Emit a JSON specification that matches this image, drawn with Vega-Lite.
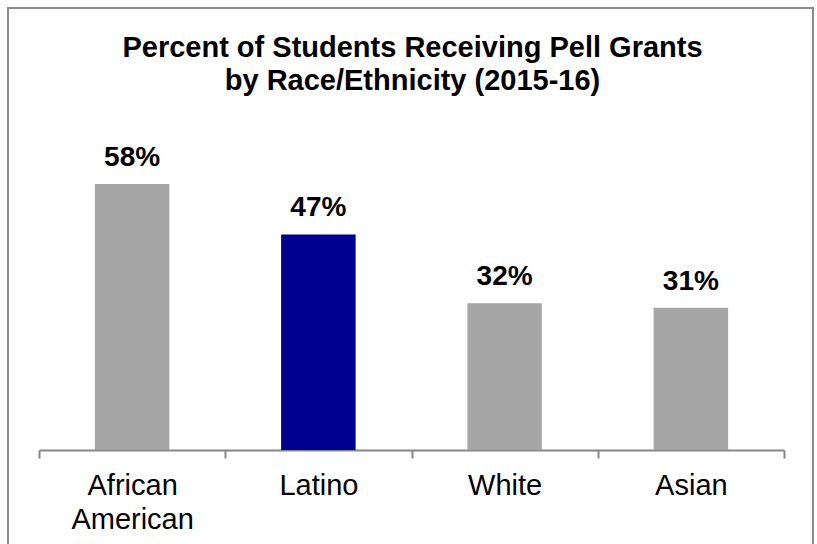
{
  "$schema": "https://vega.github.io/schema/vega-lite/v6.json",
  "autosize": {"type": "none"},
  "width": 805,
  "height": 540,
  "padding": {"left": 8, "top": 8, "right": 4, "bottom": 0},
  "background": "white",
  "config": {
    "view": {"stroke": "#8a8a8a", "strokeWidth": 2},
    "font": "Liberation Sans"
  },
  "title": {
    "text": ["Percent of Students Receiving Pell Grants", "by Race/Ethnicity (2015-16)"],
    "fontSize": 29,
    "fontWeight": "bold",
    "color": "black",
    "anchor": "middle",
    "frame": "group",
    "lineHeight": 33,
    "offset": -111,
    "baseline": "alphabetic",
    "dx": 2
  },
  "data": {
    "values": [
      {"group": "African American", "pct": 0.58, "highlight": "no"},
      {"group": "Latino", "pct": 0.47, "highlight": "yes"},
      {"group": "White", "pct": 0.32, "highlight": "no"},
      {"group": "Asian", "pct": 0.31, "highlight": "no"}
    ]
  },
  "encoding": {
    "x": {
      "field": "group",
      "type": "nominal",
      "sort": null,
      "scale": {"range": [31, 776], "paddingInner": 0, "paddingOuter": 0},
      "axis": {
        "title": null,
        "orient": "bottom",
        "offset": -98,
        "tickBand": "extent",
        "tickSize": 8,
        "tickWidth": 2,
        "tickColor": "#868686",
        "domainColor": "#868686",
        "domainWidth": 2,
        "labelFontSize": 29,
        "labelColor": "black",
        "labelPadding": 13,
        "labelAngle": 0,
        "labelLineHeight": 34,
        "labelLimit": 0,
        "labelExpr": "datum.label == 'African American' ? ['African', 'American'] : datum.label",
        "grid": false
      }
    },
    "y": {
      "field": "pct",
      "type": "quantitative",
      "scale": {"domain": [-0.2137, 0.9638], "nice": false, "zero": false},
      "axis": null
    }
  },
  "layer": [
    {
      "mark": {"type": "bar", "width": {"band": 0.4}},
      "encoding": {
        "y2": {"datum": 0},
        "color": {
          "field": "highlight",
          "type": "nominal",
          "scale": {"domain": ["no", "yes"], "range": ["#a6a6a6", "#000090"]},
          "legend": null
        }
      }
    },
    {
      "mark": {"type": "text", "fontSize": 28, "fontWeight": "bold", "baseline": "alphabetic", "dy": -18, "color": "black"},
      "encoding": {
        "text": {"field": "pct", "type": "quantitative", "format": ".0%"}
      }
    }
  ]
}
